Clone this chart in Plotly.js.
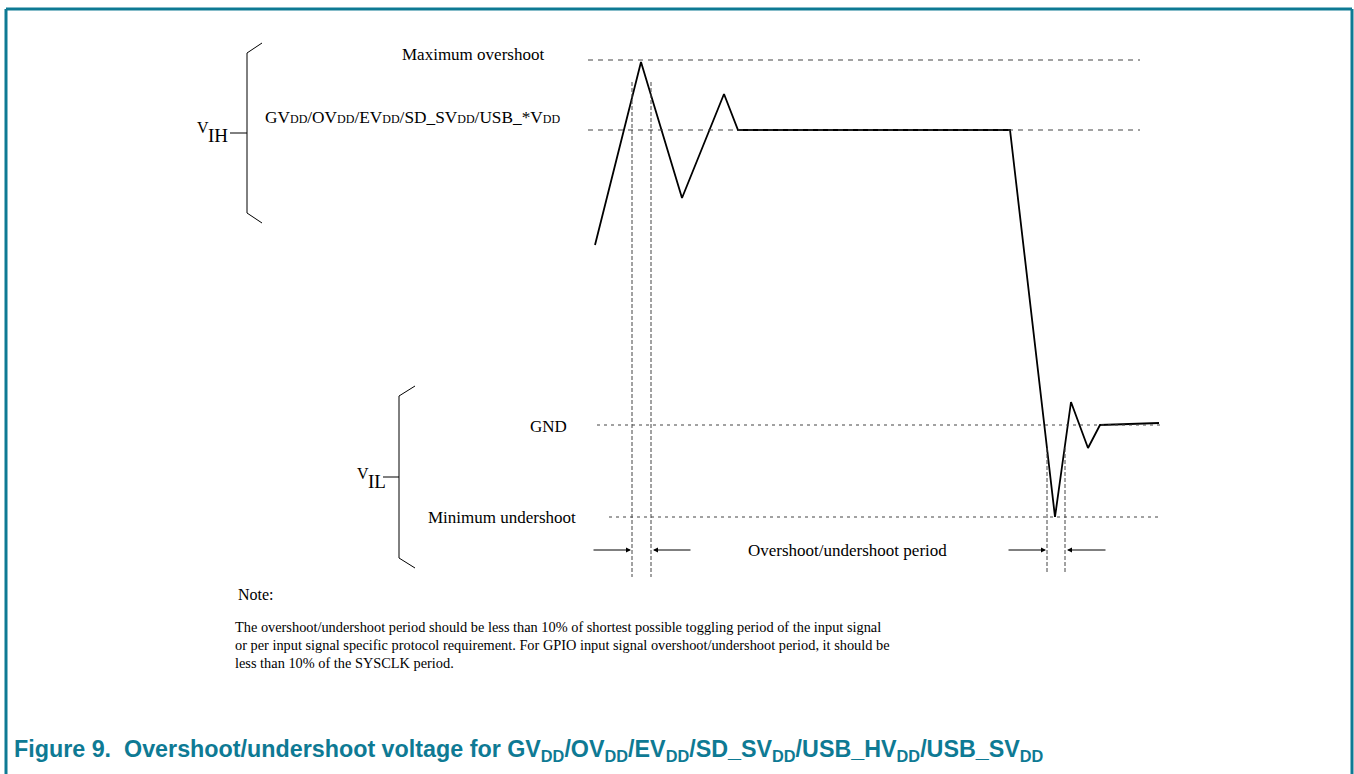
<!DOCTYPE html>
<html>
<head>
<meta charset="utf-8">
<script src="https://cdn.plot.ly/plotly-3.0.1.min.js"></script>
<style>
html,body{margin:0;padding:0;background:#fff;}
#chart{width:1354px;height:774px;}
</style>
</head>
<body>
<div id="chart"></div>
<script>
// ---- Data (diagram coordinates: x = time, y = drawing level, downward) ----
var signalTime    = [595, 641, 682, 724, 738, 1010, 1055, 1071, 1088, 1100, 1159];
var signalLevel   = [245, 62, 198, 94, 130, 130, 517, 402, 448, 425, 423];

var levelNames    = ["Maximum overshoot", "GVDD/OVDD/EVDD/SD_SVDD/USB_*VDD", "GND", "Minimum undershoot"];
var levelValues   = [60, 130, 425, 517];
var levelStart    = [588, 588, 597, 609];
var levelEnd      = [1140, 1140, 1160, 1162];

var periodMarksOver  = [632, 651];
var periodMarksUnder = [1047, 1065];

var noteLines = [
  "The overshoot/undershoot period should be less than 10% of shortest possible toggling period of the input signal",
  "or per input signal specific protocol requirement. For GPIO input signal overshoot/undershoot period, it should be",
  "less than 10% of the SYSCLK period."
];

var teal = "#0e7a94";
var serif = "Liberation Serif, Times New Roman, serif";
var sans = "Liberation Sans, Arial, sans-serif";

var traces = [{
  x: signalTime, y: signalLevel, mode: "lines", type: "scatter",
  line: {color: "#000", width: 1.8}, hoverinfo: "skip", showlegend: false
}];

var shapes = [];
for (var i = 0; i < levelValues.length; i++) {
  shapes.push({type: "line", x0: levelStart[i], x1: levelEnd[i], y0: levelValues[i], y1: levelValues[i],
    line: {color: "#444", width: 1, dash: i < 2 ? "5px,5px" : "3px,4px"}});
}
function vmark(x, y0, y1) {
  shapes.push({type: "line", x0: x, x1: x, y0: y0, y1: y1, line: {color: "#444", width: 1, dash: "4px,2px"}});
}
periodMarksOver.forEach(function (x) { vmark(x, 82, 577); });
periodMarksUnder.forEach(function (x) { vmark(x, 448, 572); });

function seg(x0, y0, x1, y1, col, w) {
  shapes.push({type: "line", x0: x0, y0: y0, x1: x1, y1: y1, line: {color: col || "#000", width: w || 1}});
}
// upper bracket (VIH)
seg(247, 53, 247, 213); seg(247, 53, 262, 43); seg(247, 213, 262, 223); seg(230, 133, 247, 133);
// lower bracket (VIL)
seg(399, 396, 399, 558); seg(399, 396, 415, 386); seg(399, 558, 415, 568); seg(383, 477, 399, 477);
// frame
seg(6, 9, 1352, 9, teal, 3); seg(6, 9, 6, 774, teal, 3); seg(1352, 9, 1352, 774, teal, 3);

var ann = [];
function txt(x, y, t, size, anchor, font, color) {
  ann.push({x: x, y: y, xref: "x", yref: "y", text: t, showarrow: false, xanchor: anchor || "left", yanchor: "middle",
    font: {family: font || serif, size: size || 17, color: color || "#000"}});
}
function arrow(fromX, toX, y) {
  ann.push({x: toX, y: y, ax: fromX, ay: y, xref: "x", yref: "y", axref: "x", ayref: "y", text: "", showarrow: true,
    arrowhead: 2, arrowsize: 1, arrowwidth: 1, arrowcolor: "#000", standoff: 0, startstandoff: 0});
}
var dd = function (s) { return s + "<span style='font-size:12px'>DD</span>"; };
txt(546, 54, levelNames[0], 17, "right");
txt(263, 117, dd("GV") + "/" + dd("OV") + "/" + dd("EV") + "/" + dd("SD_SV") + "/" + dd("USB_*V"), 17.3, "left");
txt(569, 426, levelNames[2], 17, "right");
txt(578, 517, levelNames[3], 17, "right");
txt(195, 127, "V", 16, "left");
txt(206, 135, "IH", 19, "left");
txt(355, 473, "V", 16, "left");
txt(366, 481, "IL", 19, "left");
txt(847, 550, "Overshoot/undershoot period", 17, "center");
txt(236, 594, "Note:", 16, "left");
for (var k = 0; k < noteLines.length; k++) txt(233, 627 + 18 * k, noteLines[k], 14.35, "left");
txt(12, 750, "<b>Figure 9.  Overshoot/undershoot voltage for GV<sub>DD</sub>/OV<sub>DD</sub>/EV<sub>DD</sub>/SD_SV<sub>DD</sub>/USB_HV<sub>DD</sub>/USB_SV<sub>DD</sub></b>", 23.3, "left", sans, teal);

arrow(592, 631, 550); arrow(692, 653, 550);
arrow(1007, 1046, 550); arrow(1107, 1067, 550);

var layout = {
  width: 1354, height: 774,
  margin: {l: 0, r: 0, t: 0, b: 0},
  paper_bgcolor: "#fff", plot_bgcolor: "#fff",
  xaxis: {range: [0, 1354], visible: false, fixedrange: true},
  yaxis: {range: [774, 0], visible: false, fixedrange: true},
  shapes: shapes, annotations: ann, showlegend: false
};
Plotly.newPlot("chart", traces, layout, {staticPlot: true, displayModeBar: false});
</script>
</body>
</html>
